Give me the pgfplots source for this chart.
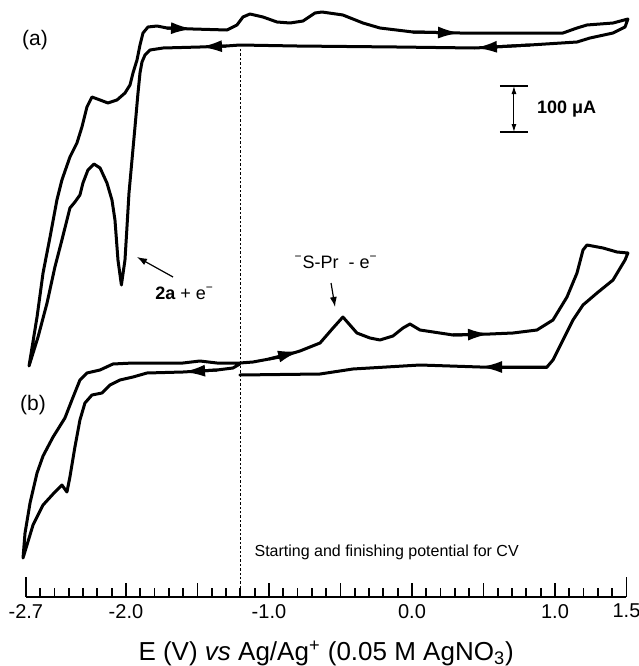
\documentclass[border=0pt]{standalone}
\usepackage{pgfplots}
\pgfplotsset{compat=1.18}
\usepackage{fontspec}
\setmainfont{Liberation Sans}
\usetikzlibrary{arrows.meta}

\newcommand{\supm}{\textsuperscript{\char"2212}}
\pgfplotsset{cvarrow/.style={-{Latex[length=11pt,width=6pt]}}}

\begin{document}
\begin{tikzpicture}
\begin{axis}[
  x=71.5pt, y=0.5pt,
  xmin=-2.7, xmax=1.5, ymin=-14, ymax=583,
  axis x line=bottom, axis y line=none,
  axis line style={-, line width=1.1pt},
  tick align=inside,
  xtick={-2,-1.5,-1,-0.5,0,0.5,1},
  xticklabels={-2.0,,-1.0,,0.0,,1.0},
  extra x ticks={-2.7,1.5},
  extra x tick labels={-2.7,1.5},
  extra x tick style={major tick length=10pt},
  minor xtick={-2.6,-2.5,...,1.4},
  major tick length=7pt, minor tick length=4.5pt,
  tick style={black, line width=0.9pt},
  ytick=\empty,
  ticklabel style={font=\fontsize{10}{12}\selectfont},
  xlabel={E (V) \textit{vs} Ag/Ag\textsuperscript{+} (0.05 M AgNO\textsubscript{3})},
  xlabel style={font=\fontsize{13}{15}\selectfont, at={(axis description cs:0.5,-0.094)}, anchor=center},
  clip=false,
  every axis plot/.append style={black, solid, no markers, line width=1.5pt, line join=round, line cap=round},
]
% ---- curve (a): one closed scan from -1.2 V ----
\addplot[] coordinates {(-1.203,538) (-1.300,537) (-1.483,536) (-1.741,535) (-1.832,533)
  (-1.867,528) (-1.888,521) (-1.902,510) (-1.916,490) (-1.937,456) (-1.958,423) (-1.979,390)
  (-1.993,356) (-2.007,323) (-2.032,298) (-2.056,323) (-2.077,363) (-2.098,383) (-2.133,400)
  (-2.181,415) (-2.224,419) (-2.266,413) (-2.301,400) (-2.322,388) (-2.357,381) (-2.392,375)
  (-2.413,363) (-2.448,343) (-2.497,316) (-2.552,280) (-2.615,246) (-2.678,217) (-2.622,266)
  (-2.580,310) (-2.531,346) (-2.483,383) (-2.448,403) (-2.392,426) (-2.343,440) (-2.308,456)
  (-2.273,476) (-2.238,486) (-2.181,483) (-2.126,480) (-2.063,483) (-2.007,490) (-1.972,498)
  (-1.951,510) (-1.923,523) (-1.902,538) (-1.881,550) (-1.846,556) (-1.783,557) (-1.713,555)
  (-1.531,554) (-1.294,553) (-1.224,558) (-1.182,566) (-1.133,569) (-1.042,566) (-0.944,561)
  (-0.853,560) (-0.762,562) (-0.678,570) (-0.629,571) (-0.483,568) (-0.343,560) (-0.224,555)
  (0.007,551) (0.336,550) (0.594,550) (1.056,550) (1.154,555) (1.224,558) (1.406,560)
  (1.510,564) (1.490,556) (1.406,550) (1.245,545) (1.154,541) (0.825,538) (0.440,535)
  (-0.105,536) (-0.804,537) (-1.203,538)};
% scan direction arrows on (a)
\addplot[cvarrow] coordinates {(-1.300,537) (-1.483,536)};
\addplot[cvarrow] coordinates {(-1.713,555) (-1.531,554)};
\addplot[cvarrow] coordinates {(0.007,551) (0.336,550)};
\addplot[cvarrow] coordinates {(0.825,538) (0.440,535)};

% ---- curve (b) ----
\addplot[] coordinates {(-1.203,219) (-1.252,215) (-1.364,213) (-1.601,211) (-1.853,210)
  (-1.951,206) (-2.042,203) (-2.112,198) (-2.168,190) (-2.238,188) (-2.287,180) (-2.322,163)
  (-2.357,136) (-2.392,106) (-2.413,91) (-2.448,98) (-2.497,91) (-2.580,78) (-2.650,58)
  (-2.720,25) (-2.706,50) (-2.671,80) (-2.622,110) (-2.580,127) (-2.510,146) (-2.427,165)
  (-2.378,183) (-2.322,203) (-2.273,210) (-2.182,213) (-2.091,219) (-1.951,220) (-1.601,220)
  (-1.483,222) (-1.364,220) (-1.203,220) (-1.112,221) (-0.923,226) (-0.783,232) (-0.643,240)
  (-0.552,255) (-0.483,266) (-0.385,250) (-0.294,245) (-0.224,243) (-0.133,247) (-0.063,255)
  (-0.014,259) (0.056,253) (0.287,248) (0.545,249) (0.706,250) (0.874,253) (0.986,263)
  (1.084,286) (1.154,310) (1.196,333) (1.224,338) (1.336,335) (1.434,331) (1.510,330)
  (1.490,323) (1.406,303) (1.294,290) (1.196,278) (1.126,263) (1.056,243) (0.986,223)
  (0.944,216) (0.476,216) (0.056,218) (-0.413,214) (-0.643,209) (-1.203,208)};
% scan direction arrows on (b)
\addplot[cvarrow] coordinates {(-1.364,213) (-1.601,211)};
\addplot[cvarrow] coordinates {(-1.000,224) (-0.783,232)};
\addplot[cvarrow] coordinates {(0.287,248) (0.545,249)};
\addplot[cvarrow] coordinates {(0.944,216) (0.476,216)};

% ---- annotations ----
\draw[line width=0.5pt, dash pattern=on 1.2pt off 1pt] (axis cs:-1.2,-14) -- (axis cs:-1.2,535);
\node[font=\fontsize{10.5}{12}\selectfont] at (axis cs:-2.636,543) {(a)};
\node[font=\fontsize{10.5}{12}\selectfont] at (axis cs:-2.650,178) {(b)};
\node[font=\fontsize{9}{11}\selectfont] at (axis cs:-1.590,290) {\textbf{2a} + e\supm};
\draw[-{Latex[length=5pt,width=3.5pt]}, line width=0.6pt] (axis cs:-1.671,306) -- (axis cs:-1.923,326);
\node[font=\fontsize{9}{11}\selectfont] at (axis cs:-0.531,321) {\supm S-Pr\ \ - e\supm};
\draw[-{Latex[length=5pt,width=3.5pt]}, line width=0.6pt] (axis cs:-0.566,300) -- (axis cs:-0.538,276);
\node[anchor=west, font=\fontsize{8}{10}\selectfont] at (axis cs:-1.150,31) {Starting and finishing potential for CV};
% scale bar
\draw[line width=0.6pt] (axis cs:0.615,497) -- (axis cs:0.811,497);
\draw[line width=0.6pt] (axis cs:0.615,451) -- (axis cs:0.811,451);
\draw[line width=0.5pt, {Latex[length=4pt,width=2.5pt]}-{Latex[length=4pt,width=2.5pt]}] (axis cs:0.713,497) -- (axis cs:0.713,451);
\node[anchor=west, font=\bfseries\fontsize{9}{11}\selectfont] at (axis cs:0.825,474) {100 μA};

\coordinate (bl) at (axis cs:-2.881,-83);
\coordinate (tr) at (axis cs:1.587,583);
\end{axis}
\pgfresetboundingbox
\useasboundingbox (bl) rectangle (tr);
\end{tikzpicture}
\end{document}
